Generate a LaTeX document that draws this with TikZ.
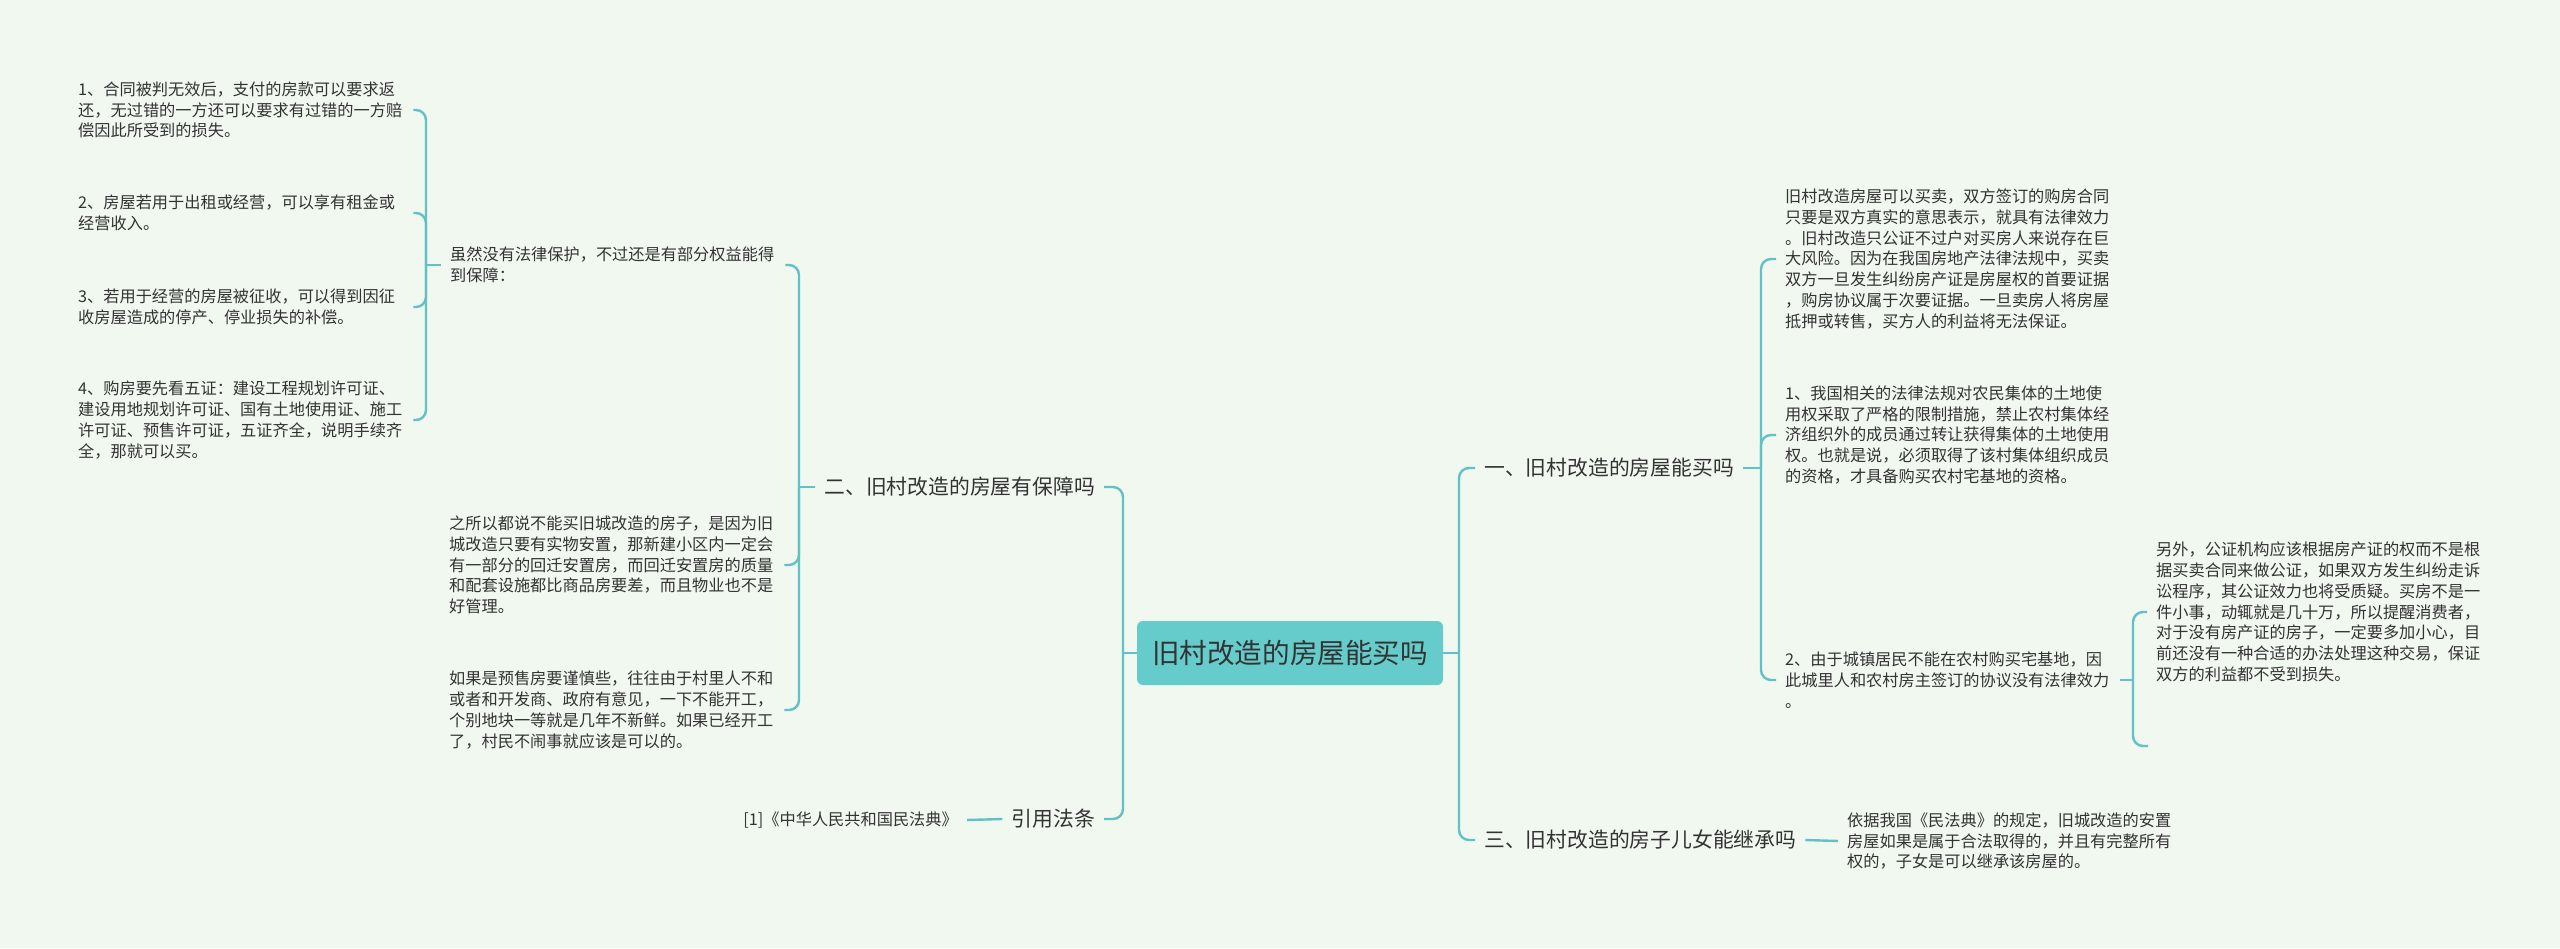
\documentclass[tikz,border=0pt]{standalone}
\usepackage{fontspec}
\setmainfont{Noto Sans CJK SC}
\definecolor{bg}{HTML}{F0F8EF}
\definecolor{ln}{HTML}{62C1C6}
\definecolor{rootfill}{HTML}{65CBCB}
\definecolor{txt}{HTML}{333333}
\begin{document}
\begin{tikzpicture}[x=1pt,y=-1pt,
  conn/.style={draw=ln,line width=2.4pt,rounded corners=10pt},
  body/.style={text=txt,font=\fontsize{16.2}{20.8}\selectfont,text width=326pt,align=left,inner xsep=9pt,inner ysep=2pt,anchor=west},
  smalltxt/.style={text=txt,font=\fontsize{16.2}{20.8}\selectfont,inner xsep=9pt,inner ysep=2pt},
  lvl/.style={text=txt,font=\fontsize{20.8}{25}\selectfont,inner xsep=9pt,inner ysep=2pt},
  rootbox/.style={fill=rootfill,rounded corners=6pt,minimum width=306pt,minimum height=64pt,inner sep=0pt,text=txt,font=\fontsize{27.6}{30}\selectfont}]
\fill[bg] (0,0) rectangle (2560,948);
\useasboundingbox (0,0) rectangle (2560,948);

% root
\node[rootbox] (root) at (1290,653) {旧村改造的房屋能买吗};

% junctions
\coordinate (jL) at (1123,653);
\coordinate (j2) at (799,487);
\coordinate (j3) at (426,265);
\coordinate (jR) at (1459,653);
\coordinate (j1) at (1761,468);
\coordinate (j4) at (2133,680);
\coordinate (lwempty) at (2148,746);

% left level 1
\node[lvl,anchor=east] (er) at (1104,487) {二、旧村改造的房屋有保障吗};
\node[lvl,anchor=east] (yin) at (1104,819) {引用法条};
\node[smalltxt,anchor=east] (fa) at (967,820) {[1]《中华人民共和国民法典》};

% level 2 left
\node[body] (suiran) at (441,265) {虽然没有法律保护，不过还是有部分权益能得\\到保障：};
\node[body] (zhisuoyi) at (440,565) {之所以都说不能买旧城改造的房子，是因为旧\\城改造只要有实物安置，那新建小区内一定会\\有一部分的回迁安置房，而回迁安置房的质量\\和配套设施都比商品房要差，而且物业也不是\\好管理。};
\node[body] (ruguo) at (440,710) {如果是预售房要谨慎些，往往由于村里人不和\\或者和开发商、政府有意见，一下不能开工，\\个别地块一等就是几年不新鲜。如果已经开工\\了，村民不闹事就应该是可以的。};

% level 3 left
\node[body] (s1) at (69,110) {1、合同被判无效后，支付的房款可以要求返\\还，无过错的一方还可以要求有过错的一方赔\\偿因此所受到的损失。};
\node[body] (s2) at (69,213) {2、房屋若用于出租或经营，可以享有租金或\\经营收入。};
\node[body] (s3) at (69,307) {3、若用于经营的房屋被征收，可以得到因征\\收房屋造成的停产、停业损失的补偿。};
\node[body] (s4) at (69,420) {4、购房要先看五证：建设工程规划许可证、\\建设用地规划许可证、国有土地使用证、施工\\许可证、预售许可证，五证齐全，说明手续齐\\全，那就可以买。};

% right level 1
\node[lvl,anchor=west] (yi) at (1475,468) {一、旧村改造的房屋能买吗};
\node[lvl,anchor=west] (san) at (1475,840) {三、旧村改造的房子儿女能继承吗};

% right level 2
\node[body] (ra) at (1776,259) {旧村改造房屋可以买卖，双方签订的购房合同\\只要是双方真实的意思表示，就具有法律效力\\。旧村改造只公证不过户对买房人来说存在巨\\大风险。因为在我国房地产法律法规中，买卖\\双方一旦发生纠纷房产证是房屋权的首要证据\\，购房协议属于次要证据。一旦卖房人将房屋\\抵押或转售，买方人的利益将无法保证。};
\node[body] (rb) at (1776,435) {1、我国相关的法律法规对农民集体的土地使\\用权采取了严格的限制措施，禁止农村集体经\\济组织外的成员通过转让获得集体的土地使用\\权。也就是说，必须取得了该村集体组织成员\\的资格，才具备购买农村宅基地的资格。};
\node[body] (rc) at (1776,680) {2、由于城镇居民不能在农村购买宅基地，因\\此城里人和农村房主签订的协议没有法律效力\\。};
\node[body] (lw) at (2147,612) {另外，公证机构应该根据房产证的权而不是根\\据买卖合同来做公证，如果双方发生纠纷走诉\\讼程序，其公证效力也将受质疑。买房不是一\\件小事，动辄就是几十万，所以提醒消费者，\\对于没有房产证的房子，一定要多加小心，目\\前还没有一种合适的办法处理这种交易，保证\\双方的利益都不受到损失。};
\node[body] (yiju) at (1838,841) {依据我国《民法典》的规定，旧城改造的安置\\房屋如果是属于合法取得的，并且有完整所有\\权的，子女是可以继承该房屋的。};

% connectors left
\draw[conn] (root.west) -- (jL);
\draw[conn] (jL) |- (er.east);
\draw[conn] (jL) |- (yin.east);
\draw[conn] (yin.west) -- (fa.east);
\draw[conn] (er.west) -- (j2);
\draw[conn] (j2) |- (suiran.east);
\draw[conn] (j2) |- (zhisuoyi.east);
\draw[conn] (j2) |- (ruguo.east);
\draw[conn] (suiran.west) -- (j3);
\draw[conn] (j3) |- (s1.east);
\draw[conn] (j3) |- (s2.east);
\draw[conn] (j3) |- (s3.east);
\draw[conn] (j3) |- (s4.east);

% connectors right
\draw[conn] (root.east) -- (jR);
\draw[conn] (jR) |- (yi.west);
\draw[conn] (jR) |- (san.west);
\draw[conn] (san.east) -- (yiju.west);
\draw[conn] (yi.east) -- (j1);
\draw[conn] (j1) |- (ra.west);
\draw[conn] (j1) |- (rb.west);
\draw[conn] (j1) |- (rc.west);
\draw[conn] (rc.east) -- (j4);
\draw[conn] (j4) |- (lw.west);
\draw[conn] (j4) |- (lwempty);
\end{tikzpicture}
\end{document}
